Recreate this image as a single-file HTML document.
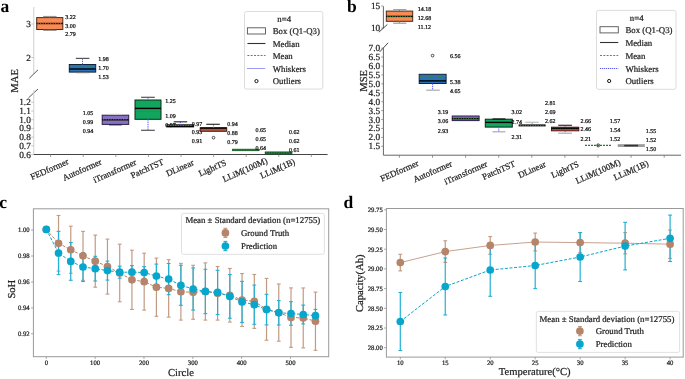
<!DOCTYPE html><html><head><meta charset="utf-8"><style>html,body{margin:0;padding:0;background:#fff;overflow:hidden}</style></head><body><svg width="685" height="379" viewBox="0 0 685 379" style="display:block;font-family:'Liberation Serif', serif;will-change:transform;text-rendering:geometricPrecision">
<rect width="685" height="379" fill="#fff"/>
<text x="0.60" y="11.80" font-size="17.5" text-anchor="start" dominant-baseline="auto" fill="#000" font-weight="bold">a</text>
<text x="347.00" y="12.00" font-size="17.5" text-anchor="start" dominant-baseline="auto" fill="#000" font-weight="bold">b</text>
<text x="-0.80" y="207.60" font-size="17.5" text-anchor="start" dominant-baseline="auto" fill="#000" font-weight="bold">c</text>
<text x="343.50" y="207.50" font-size="17.5" text-anchor="start" dominant-baseline="auto" fill="#000" font-weight="bold">d</text>
<line x1="33.80" y1="7.00" x2="33.80" y2="74.00" stroke="#cfcfcf" stroke-width="1"/>
<line x1="31.30" y1="24.00" x2="33.80" y2="24.00" stroke="#bbb" stroke-width="0.8"/>
<text x="30.80" y="25.00" font-size="9.3" text-anchor="end" dominant-baseline="central" fill="#222" stroke="#222" stroke-width="0.22">3</text>
<line x1="31.30" y1="57.50" x2="33.80" y2="57.50" stroke="#bbb" stroke-width="0.8"/>
<text x="30.80" y="58.50" font-size="9.3" text-anchor="end" dominant-baseline="central" fill="#222" stroke="#222" stroke-width="0.22">2</text>
<line x1="29.30" y1="78.30" x2="38.00" y2="69.80" stroke="#444" stroke-width="0.9"/>
<line x1="28.50" y1="97.80" x2="38.00" y2="89.00" stroke="#444" stroke-width="0.9"/>
<line x1="33.80" y1="90.00" x2="33.80" y2="154.50" stroke="#cfcfcf" stroke-width="1"/>
<line x1="31.30" y1="154.50" x2="33.80" y2="154.50" stroke="#bbb" stroke-width="0.8"/>
<text x="30.80" y="155.50" font-size="9.3" text-anchor="end" dominant-baseline="central" fill="#222" stroke="#222" stroke-width="0.22">0.6</text>
<line x1="31.30" y1="145.80" x2="33.80" y2="145.80" stroke="#bbb" stroke-width="0.8"/>
<text x="30.80" y="146.80" font-size="9.3" text-anchor="end" dominant-baseline="central" fill="#222" stroke="#222" stroke-width="0.22">0.7</text>
<line x1="31.30" y1="137.10" x2="33.80" y2="137.10" stroke="#bbb" stroke-width="0.8"/>
<text x="30.80" y="138.10" font-size="9.3" text-anchor="end" dominant-baseline="central" fill="#222" stroke="#222" stroke-width="0.22">0.8</text>
<line x1="31.30" y1="128.40" x2="33.80" y2="128.40" stroke="#bbb" stroke-width="0.8"/>
<text x="30.80" y="129.40" font-size="9.3" text-anchor="end" dominant-baseline="central" fill="#222" stroke="#222" stroke-width="0.22">0.9</text>
<line x1="31.30" y1="119.70" x2="33.80" y2="119.70" stroke="#bbb" stroke-width="0.8"/>
<text x="30.80" y="120.70" font-size="9.3" text-anchor="end" dominant-baseline="central" fill="#222" stroke="#222" stroke-width="0.22">1.0</text>
<line x1="31.30" y1="111.00" x2="33.80" y2="111.00" stroke="#bbb" stroke-width="0.8"/>
<text x="30.80" y="112.00" font-size="9.3" text-anchor="end" dominant-baseline="central" fill="#222" stroke="#222" stroke-width="0.22">1.1</text>
<line x1="31.30" y1="102.30" x2="33.80" y2="102.30" stroke="#bbb" stroke-width="0.8"/>
<text x="30.80" y="103.30" font-size="9.3" text-anchor="end" dominant-baseline="central" fill="#222" stroke="#222" stroke-width="0.22">1.2</text>
<line x1="33.80" y1="154.50" x2="327.60" y2="154.50" stroke="#444" stroke-width="1"/>
<line x1="50.60" y1="154.50" x2="50.60" y2="157.00" stroke="#888" stroke-width="0.8"/>
<line x1="83.20" y1="154.50" x2="83.20" y2="157.00" stroke="#888" stroke-width="0.8"/>
<line x1="115.80" y1="154.50" x2="115.80" y2="157.00" stroke="#888" stroke-width="0.8"/>
<line x1="148.40" y1="154.50" x2="148.40" y2="157.00" stroke="#888" stroke-width="0.8"/>
<line x1="181.00" y1="154.50" x2="181.00" y2="157.00" stroke="#888" stroke-width="0.8"/>
<line x1="213.60" y1="154.50" x2="213.60" y2="157.00" stroke="#888" stroke-width="0.8"/>
<line x1="246.20" y1="154.50" x2="246.20" y2="157.00" stroke="#888" stroke-width="0.8"/>
<line x1="278.80" y1="154.50" x2="278.80" y2="157.00" stroke="#888" stroke-width="0.8"/>
<line x1="311.40" y1="154.50" x2="311.40" y2="157.00" stroke="#888" stroke-width="0.8"/>
<text x="0.00" y="0.00" font-size="8.8" text-anchor="middle" dominant-baseline="central" fill="#222" transform="translate(49.40,169.10) rotate(-24)" stroke="#222" stroke-width="0.22">FEDformer</text>
<text x="0.00" y="0.00" font-size="8.8" text-anchor="middle" dominant-baseline="central" fill="#222" transform="translate(82.00,169.70) rotate(-24)" stroke="#222" stroke-width="0.22">Autoformer</text>
<text x="0.00" y="0.00" font-size="8.8" text-anchor="middle" dominant-baseline="central" fill="#222" transform="translate(114.60,170.90) rotate(-24)" stroke="#222" stroke-width="0.22">iTransformer</text>
<text x="0.00" y="0.00" font-size="8.8" text-anchor="middle" dominant-baseline="central" fill="#222" transform="translate(147.20,168.50) rotate(-24)" stroke="#222" stroke-width="0.22">PatchTST</text>
<text x="0.00" y="0.00" font-size="8.8" text-anchor="middle" dominant-baseline="central" fill="#222" transform="translate(179.80,167.90) rotate(-24)" stroke="#222" stroke-width="0.22">DLinear</text>
<text x="0.00" y="0.00" font-size="8.8" text-anchor="middle" dominant-baseline="central" fill="#222" transform="translate(212.40,167.90) rotate(-24)" stroke="#222" stroke-width="0.22">LightTS</text>
<text x="0.00" y="0.00" font-size="8.8" text-anchor="middle" dominant-baseline="central" fill="#222" transform="translate(245.00,169.70) rotate(-24)" stroke="#222" stroke-width="0.22">LLiM(100M)</text>
<text x="0.00" y="0.00" font-size="8.8" text-anchor="middle" dominant-baseline="central" fill="#222" transform="translate(277.60,168.50) rotate(-24)" stroke="#222" stroke-width="0.22">LLiM(1B)</text>
<text x="0.00" y="0.00" font-size="10.6" text-anchor="middle" dominant-baseline="central" fill="#222" transform="translate(15.2,80.9) rotate(-90)" stroke="#222" stroke-width="0.22">MAE</text>
<rect x="36.70" y="17.60" width="26.10" height="11.90" fill="#f98a54" stroke="#4a2a1a" stroke-width="1"/>
<line x1="36.70" y1="23.50" x2="62.80" y2="23.50" stroke="#000" stroke-width="1.4"/>
<line x1="37.50" y1="23.50" x2="62.30" y2="23.50" stroke="#3a8a3a" stroke-width="1" stroke-dasharray="1.3,1.2"/>
<line x1="49.70" y1="16.50" x2="49.70" y2="17.60" stroke="#5a5aff" stroke-width="1" stroke-dasharray="1.4,0.9"/>
<line x1="49.70" y1="29.50" x2="49.70" y2="30.40" stroke="#5a5aff" stroke-width="1" stroke-dasharray="1.4,0.9"/>
<line x1="43.10" y1="16.50" x2="56.60" y2="16.50" stroke="#999" stroke-width="1.2"/>
<line x1="43.10" y1="30.40" x2="56.60" y2="30.40" stroke="#999" stroke-width="1.2"/>
<text x="65.20" y="17.60" font-size="6.0" text-anchor="start" dominant-baseline="central" fill="#111" stroke="#111" stroke-width="0.22">3.22</text>
<text x="65.20" y="26.50" font-size="6.0" text-anchor="start" dominant-baseline="central" fill="#111" stroke="#111" stroke-width="0.22">3.00</text>
<text x="65.20" y="35.20" font-size="6.0" text-anchor="start" dominant-baseline="central" fill="#111" stroke="#111" stroke-width="0.22">2.79</text>
<rect x="69.30" y="64.50" width="26.40" height="7.60" fill="#2b71b8" stroke="#10243c" stroke-width="1"/>
<line x1="69.30" y1="69.00" x2="95.70" y2="69.00" stroke="#000" stroke-width="1.4"/>
<line x1="70.10" y1="67.10" x2="95.20" y2="67.10" stroke="#3a8a3a" stroke-width="1" stroke-dasharray="1.3,1.2"/>
<line x1="82.50" y1="58.40" x2="82.50" y2="64.50" stroke="#5a5aff" stroke-width="1" stroke-dasharray="1.4,0.9"/>
<line x1="82.50" y1="72.10" x2="82.50" y2="72.60" stroke="#5a5aff" stroke-width="1" stroke-dasharray="1.4,0.9"/>
<line x1="75.80" y1="58.40" x2="89.40" y2="58.40" stroke="#555" stroke-width="1.2"/>
<line x1="75.80" y1="72.60" x2="89.40" y2="72.60" stroke="#777" stroke-width="1.2"/>
<text x="98.20" y="59.90" font-size="6.0" text-anchor="start" dominant-baseline="central" fill="#111" stroke="#111" stroke-width="0.22">1.98</text>
<text x="98.20" y="68.90" font-size="6.0" text-anchor="start" dominant-baseline="central" fill="#111" stroke="#111" stroke-width="0.22">1.70</text>
<text x="98.20" y="77.80" font-size="6.0" text-anchor="start" dominant-baseline="central" fill="#111" stroke="#111" stroke-width="0.22">1.53</text>
<rect x="102.20" y="115.20" width="26.50" height="9.20" fill="#8a70c0" stroke="#2d1f4a" stroke-width="1"/>
<line x1="102.20" y1="119.80" x2="128.70" y2="119.80" stroke="#000" stroke-width="1.4"/>
<line x1="103.00" y1="119.80" x2="128.20" y2="119.80" stroke="#3a8a3a" stroke-width="1" stroke-dasharray="1.3,1.2"/>
<line x1="115.40" y1="114.40" x2="115.40" y2="115.20" stroke="#5a5aff" stroke-width="1" stroke-dasharray="1.4,0.9"/>
<line x1="115.40" y1="124.40" x2="115.40" y2="124.80" stroke="#5a5aff" stroke-width="1" stroke-dasharray="1.4,0.9"/>
<line x1="109.00" y1="114.40" x2="121.80" y2="114.40" stroke="#ccc" stroke-width="1.2"/>
<line x1="109.00" y1="124.80" x2="121.80" y2="124.80" stroke="#2d1f4a" stroke-width="1.2"/>
<text x="93.20" y="113.90" font-size="6.0" text-anchor="end" dominant-baseline="central" fill="#111" stroke="#111" stroke-width="0.22">1.05</text>
<text x="93.20" y="122.90" font-size="6.0" text-anchor="end" dominant-baseline="central" fill="#111" stroke="#111" stroke-width="0.22">0.99</text>
<text x="93.20" y="132.10" font-size="6.0" text-anchor="end" dominant-baseline="central" fill="#111" stroke="#111" stroke-width="0.22">0.94</text>
<rect x="135.00" y="100.00" width="26.00" height="19.30" fill="#12a55e" stroke="#0a2a18" stroke-width="1"/>
<line x1="135.00" y1="108.40" x2="161.00" y2="108.40" stroke="#000" stroke-width="1.4"/>
<line x1="135.80" y1="111.30" x2="160.50" y2="111.30" stroke="#3a8a3a" stroke-width="1" stroke-dasharray="1.3,1.2"/>
<line x1="148.00" y1="97.30" x2="148.00" y2="100.00" stroke="#5a5aff" stroke-width="1" stroke-dasharray="1.4,0.9"/>
<line x1="148.00" y1="119.30" x2="148.00" y2="130.30" stroke="#5a5aff" stroke-width="1" stroke-dasharray="1.4,0.9"/>
<line x1="141.10" y1="97.30" x2="154.80" y2="97.30" stroke="#555" stroke-width="1.2"/>
<line x1="141.10" y1="130.30" x2="154.80" y2="130.30" stroke="#555" stroke-width="1.2"/>
<text x="165.20" y="101.80" font-size="6.0" text-anchor="start" dominant-baseline="central" fill="#111" stroke="#111" stroke-width="0.22">1.25</text>
<text x="165.20" y="116.90" font-size="6.0" text-anchor="start" dominant-baseline="central" fill="#111" stroke="#111" stroke-width="0.22">1.09</text>
<text x="165.20" y="126.20" font-size="6.0" text-anchor="start" dominant-baseline="central" fill="#111" stroke="#111" stroke-width="0.22">0.97</text>
<rect x="166.90" y="124.80" width="26.70" height="2.10" fill="#1f8a40" stroke="#111" stroke-width="1"/>
<line x1="166.90" y1="126.30" x2="193.60" y2="126.30" stroke="#000" stroke-width="1.4"/>
<line x1="167.70" y1="125.50" x2="193.10" y2="125.50" stroke="#3a8a3a" stroke-width="1" stroke-dasharray="1.3,1.2"/>
<line x1="180.30" y1="121.80" x2="180.30" y2="124.80" stroke="#5a5aff" stroke-width="1" stroke-dasharray="1.4,0.9"/>
<line x1="173.70" y1="121.80" x2="187.20" y2="121.80" stroke="#333" stroke-width="1.2"/>
<text x="191.70" y="124.70" font-size="6.0" text-anchor="start" dominant-baseline="central" fill="#111" stroke="#111" stroke-width="0.22">0.97</text>
<text x="191.70" y="133.40" font-size="6.0" text-anchor="start" dominant-baseline="central" fill="#111" stroke="#111" stroke-width="0.22">0.93</text>
<text x="191.70" y="142.40" font-size="6.0" text-anchor="start" dominant-baseline="central" fill="#111" stroke="#111" stroke-width="0.22">0.91</text>
<rect x="200.20" y="127.80" width="26.50" height="3.50" fill="#c94c42" stroke="#5a1414" stroke-width="1"/>
<line x1="200.20" y1="128.10" x2="226.70" y2="128.10" stroke="#000" stroke-width="1.4"/>
<line x1="201.00" y1="129.90" x2="226.20" y2="129.90" stroke="#3a8a3a" stroke-width="1" stroke-dasharray="1.3,1.2"/>
<line x1="213.40" y1="124.30" x2="213.40" y2="127.80" stroke="#5a5aff" stroke-width="1" stroke-dasharray="1.4,0.9"/>
<line x1="206.30" y1="124.30" x2="219.80" y2="124.30" stroke="#333" stroke-width="1.2"/>
<circle cx="213.50" cy="137.70" r="1.35" fill="none" stroke="#222" stroke-width="0.8"/>
<text x="227.20" y="124.90" font-size="6.0" text-anchor="start" dominant-baseline="central" fill="#111" stroke="#111" stroke-width="0.22">0.94</text>
<text x="227.20" y="133.60" font-size="6.0" text-anchor="start" dominant-baseline="central" fill="#111" stroke="#111" stroke-width="0.22">0.88</text>
<text x="227.20" y="142.60" font-size="6.0" text-anchor="start" dominant-baseline="central" fill="#111" stroke="#111" stroke-width="0.22">0.79</text>
<rect x="232.60" y="149.30" width="26.30" height="1.30" fill="#1a7a30" stroke="#1a5a2a" stroke-width="1"/>
<line x1="233.40" y1="150.00" x2="258.40" y2="150.00" stroke="#3a8a3a" stroke-width="1" stroke-dasharray="1.3,1.2"/>
<text x="255.60" y="131.10" font-size="6.0" text-anchor="start" dominant-baseline="central" fill="#111" stroke="#111" stroke-width="0.22">0.65</text>
<text x="255.60" y="139.70" font-size="6.0" text-anchor="start" dominant-baseline="central" fill="#111" stroke="#111" stroke-width="0.22">0.65</text>
<text x="255.60" y="149.20" font-size="6.0" text-anchor="start" dominant-baseline="central" fill="#111" stroke="#111" stroke-width="0.22">0.64</text>
<rect x="265.30" y="152.00" width="26.50" height="2.10" fill="#1a6a30" stroke="#1a4a2a" stroke-width="1"/>
<line x1="266.10" y1="153.00" x2="291.30" y2="153.00" stroke="#3a8a3a" stroke-width="1" stroke-dasharray="1.3,1.2"/>
<text x="289.00" y="132.90" font-size="6.0" text-anchor="start" dominant-baseline="central" fill="#111" stroke="#111" stroke-width="0.22">0.62</text>
<text x="289.00" y="142.00" font-size="6.0" text-anchor="start" dominant-baseline="central" fill="#111" stroke="#111" stroke-width="0.22">0.62</text>
<text x="289.00" y="151.30" font-size="6.0" text-anchor="start" dominant-baseline="central" fill="#111" stroke="#111" stroke-width="0.22">0.61</text>
<rect x="244.50" y="11.50" width="78.30" height="77.60" rx="2" fill="#fff" stroke="#d8d8d8" stroke-width="0.9"/>
<text x="284.15" y="19.00" font-size="8.8" text-anchor="middle" dominant-baseline="central" fill="#222" stroke="#222" stroke-width="0.22">n=4</text>
<rect x="247.40" y="27.80" width="18.10" height="6.2" fill="#fff" stroke="#555" stroke-width="0.9"/>
<line x1="247.40" y1="43.50" x2="265.50" y2="43.50" stroke="#333" stroke-width="1.1"/>
<line x1="247.40" y1="55.50" x2="265.50" y2="55.50" stroke="#2faa2f" stroke-width="1" stroke-dasharray="2,1.3"/>
<line x1="247.40" y1="68.50" x2="265.50" y2="68.50" stroke="#5c5cf0" stroke-width="1.1" stroke-dasharray="1.2,0.8"/>
<circle cx="256.45" cy="81.10" r="1.6" fill="none" stroke="#000" stroke-width="0.9"/>
<text x="272.70" y="31.20" font-size="8.8" text-anchor="start" dominant-baseline="central" fill="#222" stroke="#222" stroke-width="0.22">Box (Q1-Q3)</text>
<text x="272.70" y="43.70" font-size="8.8" text-anchor="start" dominant-baseline="central" fill="#222" stroke="#222" stroke-width="0.22">Median</text>
<text x="272.70" y="55.70" font-size="8.8" text-anchor="start" dominant-baseline="central" fill="#222" stroke="#222" stroke-width="0.22">Mean</text>
<text x="272.70" y="68.70" font-size="8.8" text-anchor="start" dominant-baseline="central" fill="#222" stroke="#222" stroke-width="0.22">Whiskers</text>
<text x="272.70" y="81.30" font-size="8.8" text-anchor="start" dominant-baseline="central" fill="#222" stroke="#222" stroke-width="0.22">Outliers</text>
<line x1="383.40" y1="6.30" x2="383.40" y2="28.20" stroke="#666" stroke-width="1"/>
<line x1="381.20" y1="6.00" x2="383.40" y2="6.00" stroke="#777" stroke-width="0.7"/>
<text x="380.20" y="7.00" font-size="9.3" text-anchor="end" dominant-baseline="central" fill="#222" stroke="#222" stroke-width="0.22">15</text>
<line x1="381.20" y1="28.00" x2="383.40" y2="28.00" stroke="#777" stroke-width="0.7"/>
<text x="380.20" y="29.00" font-size="9.3" text-anchor="end" dominant-baseline="central" fill="#222" stroke="#222" stroke-width="0.22">10</text>
<line x1="378.90" y1="32.20" x2="387.30" y2="24.50" stroke="#333" stroke-width="0.9"/>
<line x1="379.70" y1="51.90" x2="388.10" y2="42.80" stroke="#333" stroke-width="0.9"/>
<line x1="383.40" y1="47.50" x2="383.40" y2="155.20" stroke="#666" stroke-width="1"/>
<line x1="381.20" y1="146.30" x2="383.40" y2="146.30" stroke="#777" stroke-width="0.7"/>
<text x="380.20" y="147.30" font-size="9.3" text-anchor="end" dominant-baseline="central" fill="#222" stroke="#222" stroke-width="0.22">1.5</text>
<line x1="381.20" y1="137.38" x2="383.40" y2="137.38" stroke="#777" stroke-width="0.7"/>
<text x="380.20" y="138.38" font-size="9.3" text-anchor="end" dominant-baseline="central" fill="#222" stroke="#222" stroke-width="0.22">2.0</text>
<line x1="381.20" y1="128.46" x2="383.40" y2="128.46" stroke="#777" stroke-width="0.7"/>
<text x="380.20" y="129.46" font-size="9.3" text-anchor="end" dominant-baseline="central" fill="#222" stroke="#222" stroke-width="0.22">2.5</text>
<line x1="381.20" y1="119.54" x2="383.40" y2="119.54" stroke="#777" stroke-width="0.7"/>
<text x="380.20" y="120.54" font-size="9.3" text-anchor="end" dominant-baseline="central" fill="#222" stroke="#222" stroke-width="0.22">3.0</text>
<line x1="381.20" y1="110.62" x2="383.40" y2="110.62" stroke="#777" stroke-width="0.7"/>
<text x="380.20" y="111.62" font-size="9.3" text-anchor="end" dominant-baseline="central" fill="#222" stroke="#222" stroke-width="0.22">3.5</text>
<line x1="381.20" y1="101.70" x2="383.40" y2="101.70" stroke="#777" stroke-width="0.7"/>
<text x="380.20" y="102.70" font-size="9.3" text-anchor="end" dominant-baseline="central" fill="#222" stroke="#222" stroke-width="0.22">4.0</text>
<line x1="381.20" y1="92.78" x2="383.40" y2="92.78" stroke="#777" stroke-width="0.7"/>
<text x="380.20" y="93.78" font-size="9.3" text-anchor="end" dominant-baseline="central" fill="#222" stroke="#222" stroke-width="0.22">4.5</text>
<line x1="381.20" y1="83.86" x2="383.40" y2="83.86" stroke="#777" stroke-width="0.7"/>
<text x="380.20" y="84.86" font-size="9.3" text-anchor="end" dominant-baseline="central" fill="#222" stroke="#222" stroke-width="0.22">5.0</text>
<line x1="381.20" y1="74.94" x2="383.40" y2="74.94" stroke="#777" stroke-width="0.7"/>
<text x="380.20" y="75.94" font-size="9.3" text-anchor="end" dominant-baseline="central" fill="#222" stroke="#222" stroke-width="0.22">5.5</text>
<line x1="381.20" y1="66.02" x2="383.40" y2="66.02" stroke="#777" stroke-width="0.7"/>
<text x="380.20" y="67.02" font-size="9.3" text-anchor="end" dominant-baseline="central" fill="#222" stroke="#222" stroke-width="0.22">6.0</text>
<line x1="381.20" y1="57.10" x2="383.40" y2="57.10" stroke="#777" stroke-width="0.7"/>
<text x="380.20" y="58.10" font-size="9.3" text-anchor="end" dominant-baseline="central" fill="#222" stroke="#222" stroke-width="0.22">6.5</text>
<line x1="381.20" y1="48.18" x2="383.40" y2="48.18" stroke="#777" stroke-width="0.7"/>
<text x="380.20" y="49.18" font-size="9.3" text-anchor="end" dominant-baseline="central" fill="#222" stroke="#222" stroke-width="0.22">7.0</text>
<line x1="383.40" y1="155.20" x2="681.00" y2="155.20" stroke="#666" stroke-width="1"/>
<line x1="399.40" y1="155.20" x2="399.40" y2="157.70" stroke="#777" stroke-width="0.8"/>
<line x1="432.50" y1="155.20" x2="432.50" y2="157.70" stroke="#777" stroke-width="0.8"/>
<line x1="465.60" y1="155.20" x2="465.60" y2="157.70" stroke="#777" stroke-width="0.8"/>
<line x1="498.70" y1="155.20" x2="498.70" y2="157.70" stroke="#777" stroke-width="0.8"/>
<line x1="531.80" y1="155.20" x2="531.80" y2="157.70" stroke="#777" stroke-width="0.8"/>
<line x1="564.90" y1="155.20" x2="564.90" y2="157.70" stroke="#777" stroke-width="0.8"/>
<line x1="598.00" y1="155.20" x2="598.00" y2="157.70" stroke="#777" stroke-width="0.8"/>
<line x1="631.10" y1="155.20" x2="631.10" y2="157.70" stroke="#777" stroke-width="0.8"/>
<line x1="664.20" y1="155.20" x2="664.20" y2="157.70" stroke="#777" stroke-width="0.8"/>
<text x="0.00" y="0.00" font-size="8.8" text-anchor="middle" dominant-baseline="central" fill="#222" transform="translate(399.40,170.80) rotate(-24)" stroke="#222" stroke-width="0.22">FEDformer</text>
<text x="0.00" y="0.00" font-size="8.8" text-anchor="middle" dominant-baseline="central" fill="#222" transform="translate(432.50,171.40) rotate(-24)" stroke="#222" stroke-width="0.22">Autoformer</text>
<text x="0.00" y="0.00" font-size="8.8" text-anchor="middle" dominant-baseline="central" fill="#222" transform="translate(465.60,172.60) rotate(-24)" stroke="#222" stroke-width="0.22">iTransformer</text>
<text x="0.00" y="0.00" font-size="8.8" text-anchor="middle" dominant-baseline="central" fill="#222" transform="translate(498.70,170.20) rotate(-24)" stroke="#222" stroke-width="0.22">PatchTST</text>
<text x="0.00" y="0.00" font-size="8.8" text-anchor="middle" dominant-baseline="central" fill="#222" transform="translate(531.80,169.60) rotate(-24)" stroke="#222" stroke-width="0.22">DLinear</text>
<text x="0.00" y="0.00" font-size="8.8" text-anchor="middle" dominant-baseline="central" fill="#222" transform="translate(564.90,169.60) rotate(-24)" stroke="#222" stroke-width="0.22">LightTS</text>
<text x="0.00" y="0.00" font-size="8.8" text-anchor="middle" dominant-baseline="central" fill="#222" transform="translate(598.00,171.40) rotate(-24)" stroke="#222" stroke-width="0.22">LLiM(100M)</text>
<text x="0.00" y="0.00" font-size="8.8" text-anchor="middle" dominant-baseline="central" fill="#222" transform="translate(631.10,170.20) rotate(-24)" stroke="#222" stroke-width="0.22">LLiM(1B)</text>
<text x="0.00" y="0.00" font-size="10.6" text-anchor="middle" dominant-baseline="central" fill="#222" transform="translate(364.6,80.8) rotate(-90)" stroke="#222" stroke-width="0.22">MSE</text>
<rect x="386.30" y="11.10" width="26.40" height="10.20" fill="#f98a54" stroke="#4a2a1a" stroke-width="1"/>
<line x1="386.30" y1="16.40" x2="412.70" y2="16.40" stroke="#000" stroke-width="1.4"/>
<line x1="387.10" y1="16.40" x2="412.20" y2="16.40" stroke="#3a8a3a" stroke-width="1" stroke-dasharray="1.3,1.2"/>
<line x1="399.50" y1="9.70" x2="399.50" y2="11.10" stroke="#5a5aff" stroke-width="1" stroke-dasharray="1.4,0.9"/>
<line x1="399.50" y1="21.30" x2="399.50" y2="23.20" stroke="#5a5aff" stroke-width="1" stroke-dasharray="1.4,0.9"/>
<line x1="393.20" y1="9.70" x2="406.40" y2="9.70" stroke="#999" stroke-width="1.2"/>
<line x1="393.20" y1="23.20" x2="406.40" y2="23.20" stroke="#999" stroke-width="1.2"/>
<text x="417.80" y="10.30" font-size="6.0" text-anchor="start" dominant-baseline="central" fill="#111" stroke="#111" stroke-width="0.22">14.18</text>
<text x="417.80" y="19.00" font-size="6.0" text-anchor="start" dominant-baseline="central" fill="#111" stroke="#111" stroke-width="0.22">12.68</text>
<text x="417.80" y="28.10" font-size="6.0" text-anchor="start" dominant-baseline="central" fill="#111" stroke="#111" stroke-width="0.22">11.12</text>
<rect x="419.20" y="74.30" width="26.90" height="9.20" fill="#2b71b8" stroke="#10243c" stroke-width="1"/>
<line x1="419.20" y1="80.90" x2="446.10" y2="80.90" stroke="#000" stroke-width="1.4"/>
<line x1="420.00" y1="76.30" x2="445.60" y2="76.30" stroke="#3a8a3a" stroke-width="1" stroke-dasharray="1.3,1.2"/>
<line x1="432.60" y1="83.50" x2="432.60" y2="90.20" stroke="#5a5aff" stroke-width="1" stroke-dasharray="1.4,0.9"/>
<line x1="426.20" y1="90.20" x2="439.80" y2="90.20" stroke="#aaa" stroke-width="1.2"/>
<circle cx="432.60" cy="55.60" r="1.35" fill="none" stroke="#222" stroke-width="0.8"/>
<text x="450.00" y="57.10" font-size="6.0" text-anchor="start" dominant-baseline="central" fill="#111" stroke="#111" stroke-width="0.22">6.56</text>
<text x="450.00" y="83.20" font-size="6.0" text-anchor="start" dominant-baseline="central" fill="#111" stroke="#111" stroke-width="0.22">5.38</text>
<text x="450.00" y="92.40" font-size="6.0" text-anchor="start" dominant-baseline="central" fill="#111" stroke="#111" stroke-width="0.22">4.65</text>
<rect x="452.20" y="116.00" width="26.90" height="4.60" fill="#8a70c0" stroke="#2d1f4a" stroke-width="1"/>
<line x1="452.20" y1="118.60" x2="479.10" y2="118.60" stroke="#000" stroke-width="1.4"/>
<line x1="453.00" y1="118.30" x2="478.60" y2="118.30" stroke="#3a8a3a" stroke-width="1" stroke-dasharray="1.3,1.2"/>
<text x="448.20" y="113.30" font-size="6.0" text-anchor="end" dominant-baseline="central" fill="#111" stroke="#111" stroke-width="0.22">3.19</text>
<text x="448.20" y="122.30" font-size="6.0" text-anchor="end" dominant-baseline="central" fill="#111" stroke="#111" stroke-width="0.22">3.06</text>
<text x="448.20" y="131.60" font-size="6.0" text-anchor="end" dominant-baseline="central" fill="#111" stroke="#111" stroke-width="0.22">2.93</text>
<rect x="485.30" y="119.20" width="27.00" height="7.90" fill="#12a55e" stroke="#0a2a18" stroke-width="1"/>
<line x1="485.30" y1="122.40" x2="512.30" y2="122.40" stroke="#000" stroke-width="1.4"/>
<line x1="498.80" y1="119.00" x2="498.80" y2="119.20" stroke="#5a5aff" stroke-width="1" stroke-dasharray="1.4,0.9"/>
<line x1="498.80" y1="127.10" x2="498.80" y2="131.80" stroke="#5a5aff" stroke-width="1" stroke-dasharray="1.4,0.9"/>
<line x1="492.50" y1="119.00" x2="505.50" y2="119.00" stroke="#111" stroke-width="1.2"/>
<line x1="492.50" y1="131.80" x2="505.50" y2="131.80" stroke="#aaa" stroke-width="1.2"/>
<text x="511.50" y="112.50" font-size="6.0" text-anchor="start" dominant-baseline="central" fill="#111" stroke="#111" stroke-width="0.22">3.02</text>
<text x="511.50" y="122.60" font-size="6.0" text-anchor="start" dominant-baseline="central" fill="#111" stroke="#111" stroke-width="0.22">2.74</text>
<text x="511.50" y="138.00" font-size="6.0" text-anchor="start" dominant-baseline="central" fill="#111" stroke="#111" stroke-width="0.22">2.31</text>
<rect x="519.10" y="124.90" width="26.00" height="1.00" fill="#1f8a40" stroke="#111" stroke-width="1"/>
<line x1="519.90" y1="125.40" x2="544.60" y2="125.40" stroke="#3a8a3a" stroke-width="1" stroke-dasharray="1.3,1.2"/>
<line x1="532.20" y1="122.30" x2="532.20" y2="124.90" stroke="#5a5aff" stroke-width="1" stroke-dasharray="1.4,0.9"/>
<line x1="525.30" y1="122.30" x2="538.70" y2="122.30" stroke="#bbb" stroke-width="1.2"/>
<text x="545.10" y="104.40" font-size="6.0" text-anchor="start" dominant-baseline="central" fill="#111" stroke="#111" stroke-width="0.22">2.81</text>
<text x="545.10" y="113.40" font-size="6.0" text-anchor="start" dominant-baseline="central" fill="#111" stroke="#111" stroke-width="0.22">2.69</text>
<text x="545.10" y="122.20" font-size="6.0" text-anchor="start" dominant-baseline="central" fill="#111" stroke="#111" stroke-width="0.22">2.62</text>
<rect x="551.50" y="127.20" width="27.30" height="3.60" fill="#c24a40" stroke="#5a1414" stroke-width="1"/>
<line x1="551.50" y1="128.40" x2="578.80" y2="128.40" stroke="#000" stroke-width="1.4"/>
<line x1="552.30" y1="129.30" x2="578.30" y2="129.30" stroke="#3a8a3a" stroke-width="1" stroke-dasharray="1.3,1.2"/>
<line x1="565.10" y1="125.30" x2="565.10" y2="127.20" stroke="#5a5aff" stroke-width="1" stroke-dasharray="1.4,0.9"/>
<line x1="565.10" y1="130.80" x2="565.10" y2="133.20" stroke="#5a5aff" stroke-width="1" stroke-dasharray="1.4,0.9"/>
<line x1="558.20" y1="125.30" x2="571.90" y2="125.30" stroke="#333" stroke-width="1.2"/>
<line x1="558.20" y1="133.20" x2="571.90" y2="133.20" stroke="#aaa" stroke-width="1.2"/>
<text x="580.40" y="121.80" font-size="6.0" text-anchor="start" dominant-baseline="central" fill="#111" stroke="#111" stroke-width="0.22">2.66</text>
<text x="580.40" y="130.40" font-size="6.0" text-anchor="start" dominant-baseline="central" fill="#111" stroke="#111" stroke-width="0.22">2.46</text>
<text x="580.40" y="139.50" font-size="6.0" text-anchor="start" dominant-baseline="central" fill="#111" stroke="#111" stroke-width="0.22">2.21</text>
<line x1="585.00" y1="145.40" x2="611.70" y2="145.40" stroke="#2a7a30" stroke-width="1.1" stroke-dasharray="2,1"/>
<circle cx="598.2" cy="145.4" r="1.5" fill="none" stroke="#333" stroke-width="0.9"/>
<text x="609.70" y="121.80" font-size="6.0" text-anchor="start" dominant-baseline="central" fill="#111" stroke="#111" stroke-width="0.22">1.57</text>
<text x="609.70" y="130.70" font-size="6.0" text-anchor="start" dominant-baseline="central" fill="#111" stroke="#111" stroke-width="0.22">1.54</text>
<text x="609.70" y="140.00" font-size="6.0" text-anchor="start" dominant-baseline="central" fill="#111" stroke="#111" stroke-width="0.22">1.52</text>
<rect x="618" y="144.7" width="26.7" height="1.9" fill="#9a9a9a" stroke="#888" stroke-width="0.6"/>
<line x1="624.20" y1="145.60" x2="638.10" y2="145.60" stroke="#333" stroke-width="1.6"/>
<text x="645.70" y="132.30" font-size="6.0" text-anchor="start" dominant-baseline="central" fill="#111" stroke="#111" stroke-width="0.22">1.55</text>
<text x="645.70" y="141.30" font-size="6.0" text-anchor="start" dominant-baseline="central" fill="#111" stroke="#111" stroke-width="0.22">1.52</text>
<text x="645.70" y="150.10" font-size="6.0" text-anchor="start" dominant-baseline="central" fill="#111" stroke="#111" stroke-width="0.22">1.50</text>
<rect x="596.50" y="10.40" width="79.50" height="78.90" rx="2" fill="#fff" stroke="#d8d8d8" stroke-width="0.9"/>
<text x="636.75" y="18.00" font-size="8.8" text-anchor="middle" dominant-baseline="central" fill="#222" stroke="#222" stroke-width="0.22">n=4</text>
<rect x="600.00" y="26.70" width="18.30" height="6.2" fill="#fff" stroke="#555" stroke-width="0.9"/>
<line x1="600.00" y1="42.50" x2="618.30" y2="42.50" stroke="#333" stroke-width="1.1"/>
<line x1="600.00" y1="55.50" x2="618.30" y2="55.50" stroke="#2faa2f" stroke-width="1" stroke-dasharray="2,1.3"/>
<line x1="600.00" y1="68.50" x2="618.30" y2="68.50" stroke="#5c5cf0" stroke-width="1.1" stroke-dasharray="1.2,0.8"/>
<circle cx="609.15" cy="81.00" r="1.6" fill="none" stroke="#000" stroke-width="0.9"/>
<text x="625.40" y="30.10" font-size="8.8" text-anchor="start" dominant-baseline="central" fill="#222" stroke="#222" stroke-width="0.22">Box (Q1-Q3)</text>
<text x="625.40" y="42.70" font-size="8.8" text-anchor="start" dominant-baseline="central" fill="#222" stroke="#222" stroke-width="0.22">Median</text>
<text x="625.40" y="55.70" font-size="8.8" text-anchor="start" dominant-baseline="central" fill="#222" stroke="#222" stroke-width="0.22">Mean</text>
<text x="625.40" y="68.70" font-size="8.8" text-anchor="start" dominant-baseline="central" fill="#222" stroke="#222" stroke-width="0.22">Whiskers</text>
<text x="625.40" y="81.20" font-size="8.8" text-anchor="start" dominant-baseline="central" fill="#222" stroke="#222" stroke-width="0.22">Outliers</text>
<rect x="33.4" y="208.8" width="295.3" height="147.9" fill="none" stroke="#999" stroke-width="1"/>
<line x1="31.00" y1="230.00" x2="33.40" y2="230.00" stroke="#888" stroke-width="0.7"/>
<text x="29.60" y="230.90" font-size="6.7" text-anchor="end" dominant-baseline="central" fill="#222" stroke="#222" stroke-width="0.22">1.00</text>
<line x1="31.00" y1="256.00" x2="33.40" y2="256.00" stroke="#888" stroke-width="0.7"/>
<text x="29.60" y="256.90" font-size="6.7" text-anchor="end" dominant-baseline="central" fill="#222" stroke="#222" stroke-width="0.22">0.98</text>
<line x1="31.00" y1="282.00" x2="33.40" y2="282.00" stroke="#888" stroke-width="0.7"/>
<text x="29.60" y="282.90" font-size="6.7" text-anchor="end" dominant-baseline="central" fill="#222" stroke="#222" stroke-width="0.22">0.96</text>
<line x1="31.00" y1="307.90" x2="33.40" y2="307.90" stroke="#888" stroke-width="0.7"/>
<text x="29.60" y="308.80" font-size="6.7" text-anchor="end" dominant-baseline="central" fill="#222" stroke="#222" stroke-width="0.22">0.94</text>
<line x1="31.00" y1="333.80" x2="33.40" y2="333.80" stroke="#888" stroke-width="0.7"/>
<text x="29.60" y="334.70" font-size="6.7" text-anchor="end" dominant-baseline="central" fill="#222" stroke="#222" stroke-width="0.22">0.92</text>
<line x1="46.30" y1="356.70" x2="46.30" y2="359.00" stroke="#888" stroke-width="0.7"/>
<text x="46.30" y="363.20" font-size="6.7" text-anchor="middle" dominant-baseline="central" fill="#222" stroke="#222" stroke-width="0.22">0</text>
<line x1="95.14" y1="356.70" x2="95.14" y2="359.00" stroke="#888" stroke-width="0.7"/>
<text x="95.14" y="363.20" font-size="6.7" text-anchor="middle" dominant-baseline="central" fill="#222" stroke="#222" stroke-width="0.22">100</text>
<line x1="143.98" y1="356.70" x2="143.98" y2="359.00" stroke="#888" stroke-width="0.7"/>
<text x="143.98" y="363.20" font-size="6.7" text-anchor="middle" dominant-baseline="central" fill="#222" stroke="#222" stroke-width="0.22">200</text>
<line x1="192.82" y1="356.70" x2="192.82" y2="359.00" stroke="#888" stroke-width="0.7"/>
<text x="192.82" y="363.20" font-size="6.7" text-anchor="middle" dominant-baseline="central" fill="#222" stroke="#222" stroke-width="0.22">300</text>
<line x1="241.66" y1="356.70" x2="241.66" y2="359.00" stroke="#888" stroke-width="0.7"/>
<text x="241.66" y="363.20" font-size="6.7" text-anchor="middle" dominant-baseline="central" fill="#222" stroke="#222" stroke-width="0.22">400</text>
<line x1="290.50" y1="356.70" x2="290.50" y2="359.00" stroke="#888" stroke-width="0.7"/>
<text x="290.50" y="363.20" font-size="6.7" text-anchor="middle" dominant-baseline="central" fill="#222" stroke="#222" stroke-width="0.22">500</text>
<text x="0.00" y="0.00" font-size="10.6" text-anchor="middle" dominant-baseline="central" fill="#222" transform="translate(12.2,289.2) rotate(-90)" stroke="#222" stroke-width="0.22">SoH</text>
<text x="181.00" y="373.20" font-size="10.6" text-anchor="middle" dominant-baseline="central" fill="#222" stroke="#222" stroke-width="0.22">Circle</text>
<line x1="58.53" y1="215.50" x2="58.53" y2="271.10" stroke="#c29a82" stroke-width="1.2"/>
<line x1="56.63" y1="215.50" x2="60.43" y2="215.50" stroke="#c29a82" stroke-width="1.1"/>
<line x1="56.63" y1="271.10" x2="60.43" y2="271.10" stroke="#c29a82" stroke-width="1.1"/>
<line x1="70.77" y1="226.20" x2="70.77" y2="273.30" stroke="#c29a82" stroke-width="1.2"/>
<line x1="68.87" y1="226.20" x2="72.67" y2="226.20" stroke="#c29a82" stroke-width="1.1"/>
<line x1="68.87" y1="273.30" x2="72.67" y2="273.30" stroke="#c29a82" stroke-width="1.1"/>
<line x1="83.00" y1="231.40" x2="83.00" y2="280.30" stroke="#c29a82" stroke-width="1.2"/>
<line x1="81.10" y1="231.40" x2="84.91" y2="231.40" stroke="#c29a82" stroke-width="1.1"/>
<line x1="81.10" y1="280.30" x2="84.91" y2="280.30" stroke="#c29a82" stroke-width="1.1"/>
<line x1="95.24" y1="235.10" x2="95.24" y2="287.20" stroke="#c29a82" stroke-width="1.2"/>
<line x1="93.34" y1="235.10" x2="97.14" y2="235.10" stroke="#c29a82" stroke-width="1.1"/>
<line x1="93.34" y1="287.20" x2="97.14" y2="287.20" stroke="#c29a82" stroke-width="1.1"/>
<line x1="107.47" y1="239.10" x2="107.47" y2="294.10" stroke="#c29a82" stroke-width="1.2"/>
<line x1="105.57" y1="239.10" x2="109.38" y2="239.10" stroke="#c29a82" stroke-width="1.1"/>
<line x1="105.57" y1="294.10" x2="109.38" y2="294.10" stroke="#c29a82" stroke-width="1.1"/>
<line x1="119.71" y1="244.20" x2="119.71" y2="301.80" stroke="#c29a82" stroke-width="1.2"/>
<line x1="117.81" y1="244.20" x2="121.61" y2="244.20" stroke="#c29a82" stroke-width="1.1"/>
<line x1="117.81" y1="301.80" x2="121.61" y2="301.80" stroke="#c29a82" stroke-width="1.1"/>
<line x1="131.94" y1="250.20" x2="131.94" y2="309.40" stroke="#c29a82" stroke-width="1.2"/>
<line x1="130.04" y1="250.20" x2="133.84" y2="250.20" stroke="#c29a82" stroke-width="1.1"/>
<line x1="130.04" y1="309.40" x2="133.84" y2="309.40" stroke="#c29a82" stroke-width="1.1"/>
<line x1="144.18" y1="253.20" x2="144.18" y2="310.10" stroke="#c29a82" stroke-width="1.2"/>
<line x1="142.28" y1="253.20" x2="146.08" y2="253.20" stroke="#c29a82" stroke-width="1.1"/>
<line x1="142.28" y1="310.10" x2="146.08" y2="310.10" stroke="#c29a82" stroke-width="1.1"/>
<line x1="156.41" y1="258.10" x2="156.41" y2="316.30" stroke="#c29a82" stroke-width="1.2"/>
<line x1="154.51" y1="258.10" x2="158.31" y2="258.10" stroke="#c29a82" stroke-width="1.1"/>
<line x1="154.51" y1="316.30" x2="158.31" y2="316.30" stroke="#c29a82" stroke-width="1.1"/>
<line x1="168.65" y1="259.70" x2="168.65" y2="317.10" stroke="#c29a82" stroke-width="1.2"/>
<line x1="166.75" y1="259.70" x2="170.55" y2="259.70" stroke="#c29a82" stroke-width="1.1"/>
<line x1="166.75" y1="317.10" x2="170.55" y2="317.10" stroke="#c29a82" stroke-width="1.1"/>
<line x1="180.88" y1="263.40" x2="180.88" y2="320.10" stroke="#c29a82" stroke-width="1.2"/>
<line x1="178.98" y1="263.40" x2="182.78" y2="263.40" stroke="#c29a82" stroke-width="1.1"/>
<line x1="178.98" y1="320.10" x2="182.78" y2="320.10" stroke="#c29a82" stroke-width="1.1"/>
<line x1="193.12" y1="265.30" x2="193.12" y2="319.30" stroke="#c29a82" stroke-width="1.2"/>
<line x1="191.22" y1="265.30" x2="195.02" y2="265.30" stroke="#c29a82" stroke-width="1.1"/>
<line x1="191.22" y1="319.30" x2="195.02" y2="319.30" stroke="#c29a82" stroke-width="1.1"/>
<line x1="205.36" y1="262.90" x2="205.36" y2="320.10" stroke="#c29a82" stroke-width="1.2"/>
<line x1="203.46" y1="262.90" x2="207.26" y2="262.90" stroke="#c29a82" stroke-width="1.1"/>
<line x1="203.46" y1="320.10" x2="207.26" y2="320.10" stroke="#c29a82" stroke-width="1.1"/>
<line x1="217.59" y1="266.60" x2="217.59" y2="320.10" stroke="#c29a82" stroke-width="1.2"/>
<line x1="215.69" y1="266.60" x2="219.49" y2="266.60" stroke="#c29a82" stroke-width="1.1"/>
<line x1="215.69" y1="320.10" x2="219.49" y2="320.10" stroke="#c29a82" stroke-width="1.1"/>
<line x1="229.82" y1="268.50" x2="229.82" y2="322.10" stroke="#c29a82" stroke-width="1.2"/>
<line x1="227.92" y1="268.50" x2="231.72" y2="268.50" stroke="#c29a82" stroke-width="1.1"/>
<line x1="227.92" y1="322.10" x2="231.72" y2="322.10" stroke="#c29a82" stroke-width="1.1"/>
<line x1="242.06" y1="273.60" x2="242.06" y2="326.40" stroke="#c29a82" stroke-width="1.2"/>
<line x1="240.16" y1="273.60" x2="243.96" y2="273.60" stroke="#c29a82" stroke-width="1.1"/>
<line x1="240.16" y1="326.40" x2="243.96" y2="326.40" stroke="#c29a82" stroke-width="1.1"/>
<line x1="254.30" y1="274.50" x2="254.30" y2="328.40" stroke="#c29a82" stroke-width="1.2"/>
<line x1="252.40" y1="274.50" x2="256.19" y2="274.50" stroke="#c29a82" stroke-width="1.1"/>
<line x1="252.40" y1="328.40" x2="256.19" y2="328.40" stroke="#c29a82" stroke-width="1.1"/>
<line x1="266.53" y1="278.40" x2="266.53" y2="340.20" stroke="#c29a82" stroke-width="1.2"/>
<line x1="264.63" y1="278.40" x2="268.43" y2="278.40" stroke="#c29a82" stroke-width="1.1"/>
<line x1="264.63" y1="340.20" x2="268.43" y2="340.20" stroke="#c29a82" stroke-width="1.1"/>
<line x1="278.76" y1="284.00" x2="278.76" y2="341.20" stroke="#c29a82" stroke-width="1.2"/>
<line x1="276.87" y1="284.00" x2="280.66" y2="284.00" stroke="#c29a82" stroke-width="1.1"/>
<line x1="276.87" y1="341.20" x2="280.66" y2="341.20" stroke="#c29a82" stroke-width="1.1"/>
<line x1="291.00" y1="287.90" x2="291.00" y2="347.30" stroke="#c29a82" stroke-width="1.2"/>
<line x1="289.10" y1="287.90" x2="292.90" y2="287.90" stroke="#c29a82" stroke-width="1.1"/>
<line x1="289.10" y1="347.30" x2="292.90" y2="347.30" stroke="#c29a82" stroke-width="1.1"/>
<line x1="303.24" y1="287.95" x2="303.24" y2="347.85" stroke="#c29a82" stroke-width="1.2"/>
<line x1="301.34" y1="287.95" x2="305.13" y2="287.95" stroke="#c29a82" stroke-width="1.1"/>
<line x1="301.34" y1="347.85" x2="305.13" y2="347.85" stroke="#c29a82" stroke-width="1.1"/>
<line x1="315.47" y1="292.10" x2="315.47" y2="350.30" stroke="#c29a82" stroke-width="1.2"/>
<line x1="313.57" y1="292.10" x2="317.37" y2="292.10" stroke="#c29a82" stroke-width="1.1"/>
<line x1="313.57" y1="350.30" x2="317.37" y2="350.30" stroke="#c29a82" stroke-width="1.1"/>
<line x1="58.53" y1="231.40" x2="58.53" y2="274.60" stroke="#22b0d4" stroke-width="1.2"/>
<line x1="56.63" y1="231.40" x2="60.43" y2="231.40" stroke="#22b0d4" stroke-width="1.1"/>
<line x1="56.63" y1="274.60" x2="60.43" y2="274.60" stroke="#22b0d4" stroke-width="1.1"/>
<line x1="70.77" y1="242.50" x2="70.77" y2="280.30" stroke="#22b0d4" stroke-width="1.2"/>
<line x1="68.87" y1="242.50" x2="72.67" y2="242.50" stroke="#22b0d4" stroke-width="1.1"/>
<line x1="68.87" y1="280.30" x2="72.67" y2="280.30" stroke="#22b0d4" stroke-width="1.1"/>
<line x1="83.00" y1="252.50" x2="83.00" y2="281.50" stroke="#22b0d4" stroke-width="1.2"/>
<line x1="81.10" y1="252.50" x2="84.91" y2="252.50" stroke="#22b0d4" stroke-width="1.1"/>
<line x1="81.10" y1="281.50" x2="84.91" y2="281.50" stroke="#22b0d4" stroke-width="1.1"/>
<line x1="95.24" y1="256.30" x2="95.24" y2="281.00" stroke="#22b0d4" stroke-width="1.2"/>
<line x1="93.34" y1="256.30" x2="97.14" y2="256.30" stroke="#22b0d4" stroke-width="1.1"/>
<line x1="93.34" y1="281.00" x2="97.14" y2="281.00" stroke="#22b0d4" stroke-width="1.1"/>
<line x1="107.47" y1="261.10" x2="107.47" y2="280.10" stroke="#22b0d4" stroke-width="1.2"/>
<line x1="105.57" y1="261.10" x2="109.38" y2="261.10" stroke="#22b0d4" stroke-width="1.1"/>
<line x1="105.57" y1="280.10" x2="109.38" y2="280.10" stroke="#22b0d4" stroke-width="1.1"/>
<line x1="119.71" y1="266.20" x2="119.71" y2="278.20" stroke="#22b0d4" stroke-width="1.2"/>
<line x1="117.81" y1="266.20" x2="121.61" y2="266.20" stroke="#22b0d4" stroke-width="1.1"/>
<line x1="117.81" y1="278.20" x2="121.61" y2="278.20" stroke="#22b0d4" stroke-width="1.1"/>
<line x1="131.94" y1="265.60" x2="131.94" y2="278.80" stroke="#22b0d4" stroke-width="1.2"/>
<line x1="130.04" y1="265.60" x2="133.84" y2="265.60" stroke="#22b0d4" stroke-width="1.1"/>
<line x1="130.04" y1="278.80" x2="133.84" y2="278.80" stroke="#22b0d4" stroke-width="1.1"/>
<line x1="144.18" y1="266.60" x2="144.18" y2="278.40" stroke="#22b0d4" stroke-width="1.2"/>
<line x1="142.28" y1="266.60" x2="146.08" y2="266.60" stroke="#22b0d4" stroke-width="1.1"/>
<line x1="142.28" y1="278.40" x2="146.08" y2="278.40" stroke="#22b0d4" stroke-width="1.1"/>
<line x1="156.41" y1="264.10" x2="156.41" y2="288.10" stroke="#22b0d4" stroke-width="1.2"/>
<line x1="154.51" y1="264.10" x2="158.31" y2="264.10" stroke="#22b0d4" stroke-width="1.1"/>
<line x1="154.51" y1="288.10" x2="158.31" y2="288.10" stroke="#22b0d4" stroke-width="1.1"/>
<line x1="168.65" y1="263.50" x2="168.65" y2="294.70" stroke="#22b0d4" stroke-width="1.2"/>
<line x1="166.75" y1="263.50" x2="170.55" y2="263.50" stroke="#22b0d4" stroke-width="1.1"/>
<line x1="166.75" y1="294.70" x2="170.55" y2="294.70" stroke="#22b0d4" stroke-width="1.1"/>
<line x1="180.88" y1="265.30" x2="180.88" y2="305.30" stroke="#22b0d4" stroke-width="1.2"/>
<line x1="178.98" y1="265.30" x2="182.78" y2="265.30" stroke="#22b0d4" stroke-width="1.1"/>
<line x1="178.98" y1="305.30" x2="182.78" y2="305.30" stroke="#22b0d4" stroke-width="1.1"/>
<line x1="193.12" y1="267.90" x2="193.12" y2="310.10" stroke="#22b0d4" stroke-width="1.2"/>
<line x1="191.22" y1="267.90" x2="195.02" y2="267.90" stroke="#22b0d4" stroke-width="1.1"/>
<line x1="191.22" y1="310.10" x2="195.02" y2="310.10" stroke="#22b0d4" stroke-width="1.1"/>
<line x1="205.36" y1="269.30" x2="205.36" y2="313.60" stroke="#22b0d4" stroke-width="1.2"/>
<line x1="203.46" y1="269.30" x2="207.26" y2="269.30" stroke="#22b0d4" stroke-width="1.1"/>
<line x1="203.46" y1="313.60" x2="207.26" y2="313.60" stroke="#22b0d4" stroke-width="1.1"/>
<line x1="217.59" y1="270.30" x2="217.59" y2="314.50" stroke="#22b0d4" stroke-width="1.2"/>
<line x1="215.69" y1="270.30" x2="219.49" y2="270.30" stroke="#22b0d4" stroke-width="1.1"/>
<line x1="215.69" y1="314.50" x2="219.49" y2="314.50" stroke="#22b0d4" stroke-width="1.1"/>
<line x1="229.82" y1="274.55" x2="229.82" y2="318.25" stroke="#22b0d4" stroke-width="1.2"/>
<line x1="227.92" y1="274.55" x2="231.72" y2="274.55" stroke="#22b0d4" stroke-width="1.1"/>
<line x1="227.92" y1="318.25" x2="231.72" y2="318.25" stroke="#22b0d4" stroke-width="1.1"/>
<line x1="242.06" y1="281.35" x2="242.06" y2="322.45" stroke="#22b0d4" stroke-width="1.2"/>
<line x1="240.16" y1="281.35" x2="243.96" y2="281.35" stroke="#22b0d4" stroke-width="1.1"/>
<line x1="240.16" y1="322.45" x2="243.96" y2="322.45" stroke="#22b0d4" stroke-width="1.1"/>
<line x1="254.30" y1="285.10" x2="254.30" y2="324.30" stroke="#22b0d4" stroke-width="1.2"/>
<line x1="252.40" y1="285.10" x2="256.19" y2="285.10" stroke="#22b0d4" stroke-width="1.1"/>
<line x1="252.40" y1="324.30" x2="256.19" y2="324.30" stroke="#22b0d4" stroke-width="1.1"/>
<line x1="266.53" y1="294.30" x2="266.53" y2="324.90" stroke="#22b0d4" stroke-width="1.2"/>
<line x1="264.63" y1="294.30" x2="268.43" y2="294.30" stroke="#22b0d4" stroke-width="1.1"/>
<line x1="264.63" y1="324.90" x2="268.43" y2="324.90" stroke="#22b0d4" stroke-width="1.1"/>
<line x1="278.76" y1="300.60" x2="278.76" y2="325.00" stroke="#22b0d4" stroke-width="1.2"/>
<line x1="276.87" y1="300.60" x2="280.66" y2="300.60" stroke="#22b0d4" stroke-width="1.1"/>
<line x1="276.87" y1="325.00" x2="280.66" y2="325.00" stroke="#22b0d4" stroke-width="1.1"/>
<line x1="291.00" y1="301.70" x2="291.00" y2="325.30" stroke="#22b0d4" stroke-width="1.2"/>
<line x1="289.10" y1="301.70" x2="292.90" y2="301.70" stroke="#22b0d4" stroke-width="1.1"/>
<line x1="289.10" y1="325.30" x2="292.90" y2="325.30" stroke="#22b0d4" stroke-width="1.1"/>
<line x1="303.24" y1="305.10" x2="303.24" y2="323.90" stroke="#22b0d4" stroke-width="1.2"/>
<line x1="301.34" y1="305.10" x2="305.13" y2="305.10" stroke="#22b0d4" stroke-width="1.1"/>
<line x1="301.34" y1="323.90" x2="305.13" y2="323.90" stroke="#22b0d4" stroke-width="1.1"/>
<line x1="315.47" y1="309.40" x2="315.47" y2="322.00" stroke="#22b0d4" stroke-width="1.2"/>
<line x1="313.57" y1="309.40" x2="317.37" y2="309.40" stroke="#22b0d4" stroke-width="1.1"/>
<line x1="313.57" y1="322.00" x2="317.37" y2="322.00" stroke="#22b0d4" stroke-width="1.1"/>
<polyline points="46.30,229.50 58.53,243.30 70.77,249.75 83.00,255.85 95.24,261.15 107.47,266.60 119.71,273.00 131.94,279.80 144.18,281.65 156.41,287.20 168.65,288.40 180.88,291.75 193.12,292.30 205.36,291.50 217.59,293.35 229.82,295.30 242.06,300.00 254.30,301.45 266.53,309.30 278.76,312.60 291.00,317.60 303.24,317.90 315.47,321.20" fill="none" stroke="#b5846a" stroke-width="1.0" stroke-dasharray="3,1.6"/>
<circle cx="46.30" cy="229.50" r="3.85" fill="#b5846a"/>
<circle cx="58.53" cy="243.30" r="3.85" fill="#b5846a"/>
<circle cx="70.77" cy="249.75" r="3.85" fill="#b5846a"/>
<circle cx="83.00" cy="255.85" r="3.85" fill="#b5846a"/>
<circle cx="95.24" cy="261.15" r="3.85" fill="#b5846a"/>
<circle cx="107.47" cy="266.60" r="3.85" fill="#b5846a"/>
<circle cx="119.71" cy="273.00" r="3.85" fill="#b5846a"/>
<circle cx="131.94" cy="279.80" r="3.85" fill="#b5846a"/>
<circle cx="144.18" cy="281.65" r="3.85" fill="#b5846a"/>
<circle cx="156.41" cy="287.20" r="3.85" fill="#b5846a"/>
<circle cx="168.65" cy="288.40" r="3.85" fill="#b5846a"/>
<circle cx="180.88" cy="291.75" r="3.85" fill="#b5846a"/>
<circle cx="193.12" cy="292.30" r="3.85" fill="#b5846a"/>
<circle cx="205.36" cy="291.50" r="3.85" fill="#b5846a"/>
<circle cx="217.59" cy="293.35" r="3.85" fill="#b5846a"/>
<circle cx="229.82" cy="295.30" r="3.85" fill="#b5846a"/>
<circle cx="242.06" cy="300.00" r="3.85" fill="#b5846a"/>
<circle cx="254.30" cy="301.45" r="3.85" fill="#b5846a"/>
<circle cx="266.53" cy="309.30" r="3.85" fill="#b5846a"/>
<circle cx="278.76" cy="312.60" r="3.85" fill="#b5846a"/>
<circle cx="291.00" cy="317.60" r="3.85" fill="#b5846a"/>
<circle cx="303.24" cy="317.90" r="3.85" fill="#b5846a"/>
<circle cx="315.47" cy="321.20" r="3.85" fill="#b5846a"/>
<polyline points="46.30,229.40 58.53,253.00 70.77,261.40 83.00,267.00 95.24,268.65 107.47,270.60 119.71,272.20 131.94,272.20 144.18,272.50 156.41,276.10 168.65,279.10 180.88,285.30 193.12,289.00 205.36,291.45 217.59,292.40 229.82,296.40 242.06,301.90 254.30,304.70 266.53,309.60 278.76,312.80 291.00,313.50 303.24,314.50 315.47,315.70" fill="none" stroke="#07a6cc" stroke-width="1.0" stroke-dasharray="3,1.6"/>
<circle cx="46.30" cy="229.40" r="3.85" fill="#07a6cc"/>
<circle cx="58.53" cy="253.00" r="3.85" fill="#07a6cc"/>
<circle cx="70.77" cy="261.40" r="3.85" fill="#07a6cc"/>
<circle cx="83.00" cy="267.00" r="3.85" fill="#07a6cc"/>
<circle cx="95.24" cy="268.65" r="3.85" fill="#07a6cc"/>
<circle cx="107.47" cy="270.60" r="3.85" fill="#07a6cc"/>
<circle cx="119.71" cy="272.20" r="3.85" fill="#07a6cc"/>
<circle cx="131.94" cy="272.20" r="3.85" fill="#07a6cc"/>
<circle cx="144.18" cy="272.50" r="3.85" fill="#07a6cc"/>
<circle cx="156.41" cy="276.10" r="3.85" fill="#07a6cc"/>
<circle cx="168.65" cy="279.10" r="3.85" fill="#07a6cc"/>
<circle cx="180.88" cy="285.30" r="3.85" fill="#07a6cc"/>
<circle cx="193.12" cy="289.00" r="3.85" fill="#07a6cc"/>
<circle cx="205.36" cy="291.45" r="3.85" fill="#07a6cc"/>
<circle cx="217.59" cy="292.40" r="3.85" fill="#07a6cc"/>
<circle cx="229.82" cy="296.40" r="3.85" fill="#07a6cc"/>
<circle cx="242.06" cy="301.90" r="3.85" fill="#07a6cc"/>
<circle cx="254.30" cy="304.70" r="3.85" fill="#07a6cc"/>
<circle cx="266.53" cy="309.60" r="3.85" fill="#07a6cc"/>
<circle cx="278.76" cy="312.80" r="3.85" fill="#07a6cc"/>
<circle cx="291.00" cy="313.50" r="3.85" fill="#07a6cc"/>
<circle cx="303.24" cy="314.50" r="3.85" fill="#07a6cc"/>
<circle cx="315.47" cy="315.70" r="3.85" fill="#07a6cc"/>
<rect x="181.50" y="213.40" width="142.90" height="40.90" rx="2" fill="#fff" fill-opacity="0.85" stroke="#dcdcdc" stroke-width="0.9"/>
<text x="185.40" y="220.10" font-size="8.8" text-anchor="start" dominant-baseline="central" fill="#222" stroke="#222" stroke-width="0.22">Mean ± Standard deviation (n=12755)</text>
<line x1="225.40" y1="228.30" x2="225.40" y2="237.50" stroke="#c29a82" stroke-width="1.2"/>
<line x1="223.50" y1="228.30" x2="227.30" y2="228.30" stroke="#c29a82" stroke-width="1.1"/>
<line x1="223.50" y1="237.50" x2="227.30" y2="237.50" stroke="#c29a82" stroke-width="1.1"/>
<circle cx="225.40" cy="232.90" r="3.85" fill="#b5846a"/>
<text x="241.00" y="232.90" font-size="8.8" text-anchor="start" dominant-baseline="central" fill="#222" stroke="#222" stroke-width="0.22">Ground Truth</text>
<line x1="225.40" y1="241.40" x2="225.40" y2="250.60" stroke="#22b0d4" stroke-width="1.2"/>
<line x1="223.50" y1="241.40" x2="227.30" y2="241.40" stroke="#22b0d4" stroke-width="1.1"/>
<line x1="223.50" y1="250.60" x2="227.30" y2="250.60" stroke="#22b0d4" stroke-width="1.1"/>
<circle cx="225.40" cy="246.00" r="3.85" fill="#07a6cc"/>
<text x="241.00" y="246.00" font-size="8.8" text-anchor="start" dominant-baseline="central" fill="#222" stroke="#222" stroke-width="0.22">Prediction</text>
<rect x="386.4" y="208.5" width="296.8" height="148.6" fill="none" stroke="#999" stroke-width="1"/>
<line x1="384.00" y1="347.70" x2="386.40" y2="347.70" stroke="#888" stroke-width="0.7"/>
<text x="382.80" y="348.60" font-size="6.7" text-anchor="end" dominant-baseline="central" fill="#222" stroke="#222" stroke-width="0.22">28.00</text>
<line x1="384.00" y1="328.00" x2="386.40" y2="328.00" stroke="#888" stroke-width="0.7"/>
<text x="382.80" y="328.90" font-size="6.7" text-anchor="end" dominant-baseline="central" fill="#222" stroke="#222" stroke-width="0.22">28.25</text>
<line x1="384.00" y1="308.30" x2="386.40" y2="308.30" stroke="#888" stroke-width="0.7"/>
<text x="382.80" y="309.20" font-size="6.7" text-anchor="end" dominant-baseline="central" fill="#222" stroke="#222" stroke-width="0.22">28.50</text>
<line x1="384.00" y1="288.60" x2="386.40" y2="288.60" stroke="#888" stroke-width="0.7"/>
<text x="382.80" y="289.50" font-size="6.7" text-anchor="end" dominant-baseline="central" fill="#222" stroke="#222" stroke-width="0.22">28.75</text>
<line x1="384.00" y1="268.90" x2="386.40" y2="268.90" stroke="#888" stroke-width="0.7"/>
<text x="382.80" y="269.80" font-size="6.7" text-anchor="end" dominant-baseline="central" fill="#222" stroke="#222" stroke-width="0.22">29.00</text>
<line x1="384.00" y1="249.20" x2="386.40" y2="249.20" stroke="#888" stroke-width="0.7"/>
<text x="382.80" y="250.10" font-size="6.7" text-anchor="end" dominant-baseline="central" fill="#222" stroke="#222" stroke-width="0.22">29.25</text>
<line x1="384.00" y1="229.50" x2="386.40" y2="229.50" stroke="#888" stroke-width="0.7"/>
<text x="382.80" y="230.40" font-size="6.7" text-anchor="end" dominant-baseline="central" fill="#222" stroke="#222" stroke-width="0.22">29.50</text>
<line x1="384.00" y1="209.80" x2="386.40" y2="209.80" stroke="#888" stroke-width="0.7"/>
<text x="382.80" y="210.70" font-size="6.7" text-anchor="end" dominant-baseline="central" fill="#222" stroke="#222" stroke-width="0.22">29.75</text>
<line x1="400.30" y1="357.10" x2="400.30" y2="359.40" stroke="#888" stroke-width="0.7"/>
<text x="400.30" y="363.30" font-size="6.7" text-anchor="middle" dominant-baseline="central" fill="#222" stroke="#222" stroke-width="0.22">10</text>
<line x1="445.26" y1="357.10" x2="445.26" y2="359.40" stroke="#888" stroke-width="0.7"/>
<text x="445.26" y="363.30" font-size="6.7" text-anchor="middle" dominant-baseline="central" fill="#222" stroke="#222" stroke-width="0.22">15</text>
<line x1="490.23" y1="357.10" x2="490.23" y2="359.40" stroke="#888" stroke-width="0.7"/>
<text x="490.23" y="363.30" font-size="6.7" text-anchor="middle" dominant-baseline="central" fill="#222" stroke="#222" stroke-width="0.22">20</text>
<line x1="535.20" y1="357.10" x2="535.20" y2="359.40" stroke="#888" stroke-width="0.7"/>
<text x="535.20" y="363.30" font-size="6.7" text-anchor="middle" dominant-baseline="central" fill="#222" stroke="#222" stroke-width="0.22">25</text>
<line x1="580.16" y1="357.10" x2="580.16" y2="359.40" stroke="#888" stroke-width="0.7"/>
<text x="580.16" y="363.30" font-size="6.7" text-anchor="middle" dominant-baseline="central" fill="#222" stroke="#222" stroke-width="0.22">30</text>
<line x1="625.12" y1="357.10" x2="625.12" y2="359.40" stroke="#888" stroke-width="0.7"/>
<text x="625.12" y="363.30" font-size="6.7" text-anchor="middle" dominant-baseline="central" fill="#222" stroke="#222" stroke-width="0.22">35</text>
<line x1="670.09" y1="357.10" x2="670.09" y2="359.40" stroke="#888" stroke-width="0.7"/>
<text x="670.09" y="363.30" font-size="6.7" text-anchor="middle" dominant-baseline="central" fill="#222" stroke="#222" stroke-width="0.22">40</text>
<text x="0.00" y="0.00" font-size="10.6" text-anchor="middle" dominant-baseline="central" fill="#222" transform="translate(360.4,283.2) rotate(-90)" stroke="#222" stroke-width="0.22">Capacity(Ah)</text>
<text x="534.70" y="372.60" font-size="10.6" text-anchor="middle" dominant-baseline="central" fill="#222" stroke="#222" stroke-width="0.22">Temperature(°C)</text>
<line x1="400.30" y1="254.30" x2="400.30" y2="270.90" stroke="#c29a82" stroke-width="1.2"/>
<line x1="398.40" y1="254.30" x2="402.20" y2="254.30" stroke="#c29a82" stroke-width="1.1"/>
<line x1="398.40" y1="270.90" x2="402.20" y2="270.90" stroke="#c29a82" stroke-width="1.1"/>
<line x1="445.26" y1="240.80" x2="445.26" y2="262.40" stroke="#c29a82" stroke-width="1.2"/>
<line x1="443.37" y1="240.80" x2="447.16" y2="240.80" stroke="#c29a82" stroke-width="1.1"/>
<line x1="443.37" y1="262.40" x2="447.16" y2="262.40" stroke="#c29a82" stroke-width="1.1"/>
<line x1="490.23" y1="236.60" x2="490.23" y2="254.30" stroke="#c29a82" stroke-width="1.2"/>
<line x1="488.33" y1="236.60" x2="492.13" y2="236.60" stroke="#c29a82" stroke-width="1.1"/>
<line x1="488.33" y1="254.30" x2="492.13" y2="254.30" stroke="#c29a82" stroke-width="1.1"/>
<line x1="535.20" y1="233.05" x2="535.20" y2="250.95" stroke="#c29a82" stroke-width="1.2"/>
<line x1="533.30" y1="233.05" x2="537.10" y2="233.05" stroke="#c29a82" stroke-width="1.1"/>
<line x1="533.30" y1="250.95" x2="537.10" y2="250.95" stroke="#c29a82" stroke-width="1.1"/>
<line x1="580.16" y1="232.60" x2="580.16" y2="252.60" stroke="#c29a82" stroke-width="1.2"/>
<line x1="578.26" y1="232.60" x2="582.06" y2="232.60" stroke="#c29a82" stroke-width="1.1"/>
<line x1="578.26" y1="252.60" x2="582.06" y2="252.60" stroke="#c29a82" stroke-width="1.1"/>
<line x1="625.12" y1="232.60" x2="625.12" y2="253.80" stroke="#c29a82" stroke-width="1.2"/>
<line x1="623.23" y1="232.60" x2="627.02" y2="232.60" stroke="#c29a82" stroke-width="1.1"/>
<line x1="623.23" y1="253.80" x2="627.02" y2="253.80" stroke="#c29a82" stroke-width="1.1"/>
<line x1="670.09" y1="230.00" x2="670.09" y2="258.40" stroke="#c29a82" stroke-width="1.2"/>
<line x1="668.19" y1="230.00" x2="671.99" y2="230.00" stroke="#c29a82" stroke-width="1.1"/>
<line x1="668.19" y1="258.40" x2="671.99" y2="258.40" stroke="#c29a82" stroke-width="1.1"/>
<line x1="400.30" y1="292.50" x2="400.30" y2="350.50" stroke="#22b0d4" stroke-width="1.2"/>
<line x1="398.40" y1="292.50" x2="402.20" y2="292.50" stroke="#22b0d4" stroke-width="1.1"/>
<line x1="398.40" y1="350.50" x2="402.20" y2="350.50" stroke="#22b0d4" stroke-width="1.1"/>
<line x1="445.26" y1="258.00" x2="445.26" y2="315.00" stroke="#22b0d4" stroke-width="1.2"/>
<line x1="443.37" y1="258.00" x2="447.16" y2="258.00" stroke="#22b0d4" stroke-width="1.1"/>
<line x1="443.37" y1="315.00" x2="447.16" y2="315.00" stroke="#22b0d4" stroke-width="1.1"/>
<line x1="490.23" y1="243.70" x2="490.23" y2="296.30" stroke="#22b0d4" stroke-width="1.2"/>
<line x1="488.33" y1="243.70" x2="492.13" y2="243.70" stroke="#22b0d4" stroke-width="1.1"/>
<line x1="488.33" y1="296.30" x2="492.13" y2="296.30" stroke="#22b0d4" stroke-width="1.1"/>
<line x1="535.20" y1="242.40" x2="535.20" y2="288.60" stroke="#22b0d4" stroke-width="1.2"/>
<line x1="533.30" y1="242.40" x2="537.10" y2="242.40" stroke="#22b0d4" stroke-width="1.1"/>
<line x1="533.30" y1="288.60" x2="537.10" y2="288.60" stroke="#22b0d4" stroke-width="1.1"/>
<line x1="580.16" y1="232.50" x2="580.16" y2="281.50" stroke="#22b0d4" stroke-width="1.2"/>
<line x1="578.26" y1="232.50" x2="582.06" y2="232.50" stroke="#22b0d4" stroke-width="1.1"/>
<line x1="578.26" y1="281.50" x2="582.06" y2="281.50" stroke="#22b0d4" stroke-width="1.1"/>
<line x1="625.12" y1="222.30" x2="625.12" y2="269.90" stroke="#22b0d4" stroke-width="1.2"/>
<line x1="623.23" y1="222.30" x2="627.02" y2="222.30" stroke="#22b0d4" stroke-width="1.1"/>
<line x1="623.23" y1="269.90" x2="627.02" y2="269.90" stroke="#22b0d4" stroke-width="1.1"/>
<line x1="670.09" y1="215.10" x2="670.09" y2="261.50" stroke="#22b0d4" stroke-width="1.2"/>
<line x1="668.19" y1="215.10" x2="671.99" y2="215.10" stroke="#22b0d4" stroke-width="1.1"/>
<line x1="668.19" y1="261.50" x2="671.99" y2="261.50" stroke="#22b0d4" stroke-width="1.1"/>
<polyline points="400.30,262.60 445.26,251.60 490.23,245.45 535.20,242.00 580.16,242.60 625.12,243.20 670.09,244.20" fill="none" stroke="#b5846a" stroke-width="0.9" stroke-opacity="0.85"/>
<circle cx="400.30" cy="262.60" r="3.85" fill="#b5846a"/>
<circle cx="445.26" cy="251.60" r="3.85" fill="#b5846a"/>
<circle cx="490.23" cy="245.45" r="3.85" fill="#b5846a"/>
<circle cx="535.20" cy="242.00" r="3.85" fill="#b5846a"/>
<circle cx="580.16" cy="242.60" r="3.85" fill="#b5846a"/>
<circle cx="625.12" cy="243.20" r="3.85" fill="#b5846a"/>
<circle cx="670.09" cy="244.20" r="3.85" fill="#b5846a"/>
<polyline points="400.30,321.50 445.26,286.50 490.23,270.00 535.20,265.50 580.16,257.00 625.12,246.10 670.09,238.30" fill="none" stroke="#07a6cc" stroke-width="1.0" stroke-dasharray="3,1.6"/>
<circle cx="400.30" cy="321.50" r="3.85" fill="#07a6cc"/>
<circle cx="445.26" cy="286.50" r="3.85" fill="#07a6cc"/>
<circle cx="490.23" cy="270.00" r="3.85" fill="#07a6cc"/>
<circle cx="535.20" cy="265.50" r="3.85" fill="#07a6cc"/>
<circle cx="580.16" cy="257.00" r="3.85" fill="#07a6cc"/>
<circle cx="625.12" cy="246.10" r="3.85" fill="#07a6cc"/>
<circle cx="670.09" cy="238.30" r="3.85" fill="#07a6cc"/>
<rect x="536.30" y="311.30" width="143.30" height="41.10" rx="2" fill="#fff" fill-opacity="0.85" stroke="#dcdcdc" stroke-width="0.9"/>
<text x="539.50" y="318.70" font-size="8.8" text-anchor="start" dominant-baseline="central" fill="#222" stroke="#222" stroke-width="0.22">Mean ± Standard deviation (n=12755)</text>
<line x1="579.90" y1="326.50" x2="579.90" y2="335.70" stroke="#c29a82" stroke-width="1.2"/>
<line x1="578.00" y1="326.50" x2="581.80" y2="326.50" stroke="#c29a82" stroke-width="1.1"/>
<line x1="578.00" y1="335.70" x2="581.80" y2="335.70" stroke="#c29a82" stroke-width="1.1"/>
<circle cx="579.90" cy="331.10" r="3.85" fill="#b5846a"/>
<text x="595.70" y="331.10" font-size="8.8" text-anchor="start" dominant-baseline="central" fill="#222" stroke="#222" stroke-width="0.22">Ground Truth</text>
<line x1="579.90" y1="339.50" x2="579.90" y2="348.70" stroke="#22b0d4" stroke-width="1.2"/>
<line x1="578.00" y1="339.50" x2="581.80" y2="339.50" stroke="#22b0d4" stroke-width="1.1"/>
<line x1="578.00" y1="348.70" x2="581.80" y2="348.70" stroke="#22b0d4" stroke-width="1.1"/>
<circle cx="579.90" cy="344.10" r="3.85" fill="#07a6cc"/>
<text x="595.70" y="344.10" font-size="8.8" text-anchor="start" dominant-baseline="central" fill="#222" stroke="#222" stroke-width="0.22">Prediction</text>
</svg></body></html>
